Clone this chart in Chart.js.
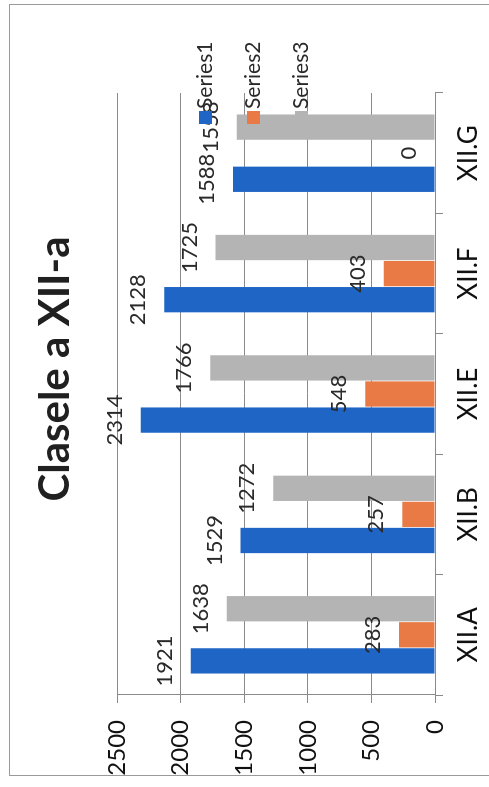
<!DOCTYPE html>
<html>
<head>
<meta charset="utf-8">
<script src="https://cdn.jsdelivr.net/npm/chart.js@4/dist/chart.umd.min.js"></script>
<style>
  html, body { margin: 0; padding: 0; background: #fff; }
  body { width: 489px; height: 787px; position: relative; overflow: hidden; }
  #rama { position: absolute; left: 9px; top: 4px; width: 489px; height: 772px; border: 1px solid #9a9a9a; box-sizing: border-box; }
  /* graficul e rotit cu 90 de grade, ca in scanare */
  #rotit { position: absolute; left: 0; top: 787px; width: 787px; height: 489px; transform: rotate(-90deg); transform-origin: 0 0; }
</style>
</head>
<body>
<div id="rama"></div>
<div id="rotit"><canvas id="grafic"></canvas></div>
<script>
// Categorii (axa X)
const clase = ["XII.A", "XII.B", "XII.E", "XII.F", "XII.G"];
// Date
const serie1 = [1921, 1529, 2314, 2128, 1588];
const serie2 = [283, 257, 548, 403, 0];
const serie3 = [1638, 1272, 1766, 1725, 1558];
const numeSerii = ["Series1", "Series2", "Series3"];
const culori = ["#1f65c6", "#ea7a45", "#b4b4b4"];
const titlu = "Clasele a XII-a";
// Axa valorilor
const valoareMin = 0;
const valoareMax = 2500;
const pasValori = 500;

Chart.defaults.font.family = "Lato, 'Open Sans', sans-serif";
Chart.defaults.color = "#1e1e1e";

// etichetele cu valori deasupra barelor
const etichete = {
  id: "etichete",
  afterDatasetsDraw(chart) {
    const ctx = chart.ctx;
    ctx.save();
    ctx.font = "22px Lato";
    ctx.fillStyle = "#2a2a2a";
    ctx.textAlign = "center";
    ctx.textBaseline = "alphabetic";
    chart.data.datasets.forEach((ds, i) => {
      chart.getDatasetMeta(i).data.forEach((bara, j) => {
        ctx.fillText(ds.data[j], bara.x, bara.y - 19);
      });
    });
    ctx.restore();
  },
};

// titlul si legenda desenate peste grafic (ca in original)
const decor = {
  id: "decor",
  afterDraw(chart) {
    const ctx = chart.ctx;
    const zona = chart.chartArea;
    ctx.save();
    ctx.font = "bold 42px Lato";
    ctx.fillStyle = "#202020";
    ctx.textAlign = "center";
    ctx.textBaseline = "middle";
    ctx.fillText(titlu, (zona.left + zona.right) / 2 + 25, zona.top - 62);

    ctx.font = "21px Lato";
    ctx.textAlign = "left";
    ctx.textBaseline = "alphabetic";
    chart.data.datasets.forEach((ds, i) => {
      const baza = zona.top + 95 + i * 48;
      const x = zona.right - 31;
      ctx.fillStyle = ds.backgroundColor;
      ctx.fillRect(x, baza - 13, 13, 13);
      ctx.fillStyle = "#2a2a2a";
      ctx.fillText(ds.label, x + 15, baza);
    });
    ctx.restore();
  },
};

const ctx = document.getElementById("grafic").getContext("2d");
new Chart(ctx, {
  type: "bar",
  data: {
    labels: clase,
    datasets: [
      { label: numeSerii[0], data: serie1, backgroundColor: culori[0] },
      { label: numeSerii[1], data: serie2, backgroundColor: culori[1] },
      { label: numeSerii[2], data: serie3, backgroundColor: culori[2] },
    ],
  },
  options: {
    responsive: true,
    maintainAspectRatio: false,
    animation: false,
    categoryPercentage: 0.65,
    barPercentage: 0.97,
    layout: { padding: { left: 0, right: 93, top: 117, bottom: 0 } },
    plugins: {
      legend: { display: false },
      tooltip: { enabled: false },
      title: { display: false },
    },
    scales: {
      x: {
        grid: { drawOnChartArea: false, drawTicks: true, tickLength: 8, color: "#8a8a8a" },
        border: { display: true, color: "#8a8a8a" },
        ticks: { font: { size: 26 }, color: "#111", padding: 10 },
        afterFit(s) { s.height = 54; },
      },
      y: {
        min: valoareMin,
        max: valoareMax,
        ticks: {
          stepSize: pasValori,
          font: { size: 24 },
          color: "#111",
          padding: 17,
          callback: (v) => String(v),
        },
        grid: { color: "#8a8a8a", tickLength: 8 },
        border: { display: true, color: "#8a8a8a" },
        afterFit(s) { s.width = 92; },
      },
    },
  },
  plugins: [etichete, decor],
});
</script>
</body>
</html>
